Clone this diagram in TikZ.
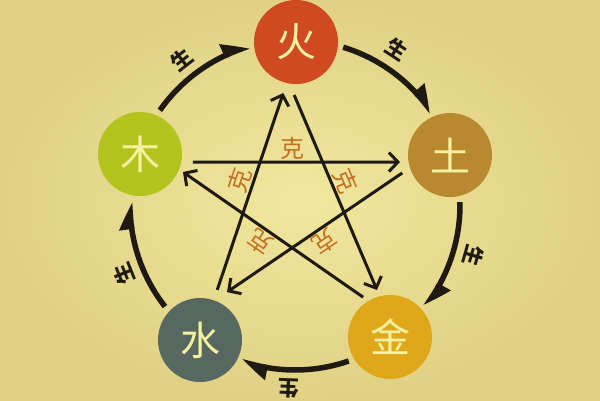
\documentclass[tikz,border=0pt]{standalone}
\usepackage{fontspec}
\newfontfamily\cjk{Noto Sans CJK SC}
\usetikzlibrary{arrows.meta,calc,bending}
\definecolor{bgin}{HTML}{F1E89E}
\definecolor{bgout}{HTML}{E0D184}
\definecolor{huoc}{HTML}{CF4A20}
\definecolor{tuc}{HTML}{B8892F}
\definecolor{jinc}{HTML}{DFA81A}
\definecolor{shuic}{HTML}{56685F}
\definecolor{muc}{HTML}{B4C41E}
\definecolor{elemtext}{HTML}{F4F1A0}
\definecolor{inkc}{HTML}{1E1A12}
\definecolor{kec}{HTML}{C46F22}
\tikzset{
  elem/.style={circle, minimum size=84pt, inner sep=0pt,
    font=\cjk\fontsize{40}{40}\selectfont, text=elemtext},
  sheng/.style={line width=5.5pt, draw=inkc,
    -{Triangle[harpoon, length=22pt, width=24pt, bend]}},
  kearrow/.style={line width=3pt, draw=inkc,
    -{Straight Barb[length=9pt, width=19pt]}},
  kelabel/.style={sloped, allow upside down, above=0pt, inner sep=1pt,
    font=\cjk\fontsize{24}{24}\selectfont, text=kec},
  shenglabel/.style={inner sep=1pt, font=\cjk\bfseries\fontsize{21}{21}\selectfont, text=inkc}
}
\begin{document}
\begin{tikzpicture}[x=1pt,y=1pt]
\shade[inner color=bgin, outer color=bgout] (0,0) rectangle (600,400);
\useasboundingbox (0,0) rectangle (600,400);
\coordinate (o) at (295,195);
% elements
\node[elem, fill=huoc]  (huo)  at (296,358) {火};
\node[elem, fill=tuc]   (tu)   at (450,245) {土};
\node[elem, fill=jinc]  (jin)  at (390,63)  {金};
\node[elem, fill=shuic] (shui) at (200,60)  {水};
\node[elem, fill=muc]   (mu)   at (140,246) {木};
% sheng cycle
\draw[sheng] ($(o)+(145:165)$) arc[start angle=145, end angle=106, radius=165];
\draw[sheng] ($(o)+(73:165)$)  arc[start angle=73,  end angle=34,  radius=165];
\draw[sheng] ($(o)+(1:165)$)   arc[start angle=1,   end angle=-38, radius=165];
\draw[sheng] ($(o)+(-71:165)$) arc[start angle=-71, end angle=-109, radius=165];
\draw[sheng] ($(o)+(218:165)$) arc[start angle=218, end angle=179, radius=165];
\node[shenglabel, rotate=38]  (s1) at ($(o)+(128:184)$) {生};
\node[shenglabel, rotate=-33] (s2) at ($(o)+(57:186)$)  {生};
\node[shenglabel, rotate=-106] (s3) at ($(o)+(-16:186)$) {生};
\node[shenglabel, rotate=178] (s4) at ($(o)+(-92:184)$) {生};
\node[shenglabel, rotate=112] (s5) at ($(o)+(202:184)$) {生};
% ke star
\draw[kearrow] ($(mu)+(-8.6:53.6)$) -- node[kelabel, pos=.48] (k1) {克} ($(tu)+(188:50.5)$);
\draw[kearrow] ($(tu)+(200.6:51)$) -- node[kelabel, pos=.484] (k2) {克} ($(shui)+(60.6:55)$);
\draw[kearrow] ($(shui)+(71:53)$) -- node[kelabel, pos=.537] (k3) {克} ($(huo)+(256:52.6)$);
\draw[kearrow] ($(huo)+(268:53)$) -- node[kelabel, pos=.47] (k4) {克} ($(jin)+(105.5:48.8)$);
\draw[kearrow] ($(jin)+(124:48)$) -- node[kelabel, pos=.529] (k5) {克} ($(mu)+(-22.7:46.6)$);
\end{tikzpicture}
\end{document}
